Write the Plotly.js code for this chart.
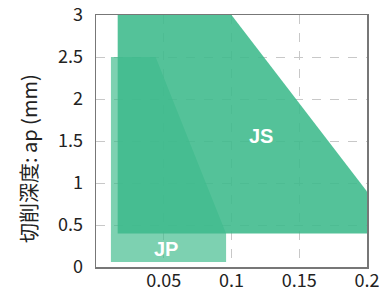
<!DOCTYPE html>
<html>
<head>
<meta charset="utf-8">
<script src="https://cdn.plot.ly/plotly-3.0.1.min.js"></script>
<style>html,body{margin:0;padding:0;background:#fff;}#chart{width:379px;height:287px;}</style>
</head>
<body>
<div id="chart"></div>
<script>
// JP region (feed f, depth ap)
const jpFeed = [0.011, 0.011, 0.044, 0.096, 0.096, 0.011];
const jpDepth = [0.06, 2.5, 2.5, 0.4, 0.06, 0.06];
// JS region
const jsFeed = [0.016, 0.016, 0.1, 0.2, 0.2, 0.016];
const jsDepth = [0.4, 3.0, 3.0, 0.9, 0.4, 0.4];
const labels = ["JS", "JP"];
const labelX = [0.122, 0.0517];
const labelY = [1.565, 0.215];
const xTicks = [0.05, 0.1, 0.15, 0.2];
const xTickText = ["0.05", "0.1", "0.15", "0.2"];
const yTicks = [0, 0.5, 1, 1.5, 2, 2.5, 3];
const yTickText = ["0", "0.5", "1", "1.5", "2", "2.5", "3"];
const yTitle = '切削深度: ap (mm)';

const traces = [
  {x: jpFeed, y: jpDepth, type: 'scatter', mode: 'lines', fill: 'toself',
   fillcolor: 'rgba(63,187,140,0.68)', line: {width: 0}, hoverinfo: 'skip', showlegend: false},
  {x: jsFeed, y: jsDepth, type: 'scatter', mode: 'lines', fill: 'toself',
   fillcolor: 'rgba(63,187,140,0.89)', line: {width: 0}, hoverinfo: 'skip', showlegend: false}
];

const annots = labels.map((t, i) => ({x: labelX[i], y: labelY[i], text: '<b>' + t + '</b>',
    showarrow: false, font: {family: '"Liberation Sans", Arial, sans-serif', size: 20, color: '#fff'}}));
annots.push({xref: 'paper', yref: 'paper', x: -0.247, y: 0.4286, xanchor: 'center', yanchor: 'middle',
  text: yTitle, textangle: -90, showarrow: false,
  font: {family: '"Noto Sans CJK JP", "Noto Sans", sans-serif', size: 20, color: '#222'}});

const layout = {
  width: 379, height: 287,
  margin: {l: 96, r: 12, t: 15, b: 20},
  paper_bgcolor: '#fff', plot_bgcolor: '#fff',
  font: {family: '"Noto Sans CJK JP", "Noto Sans", sans-serif', color: '#222', size: 18},
  xaxis: {range: [0, 0.2], tickvals: xTicks, ticktext: xTickText, showgrid: true,
    gridcolor: '#c8c8c8', griddash: 'dash', gridwidth: 1, zeroline: false,
    showline: true, linecolor: '#777', linewidth: 1.5, mirror: true, ticks: '',
    ticklabelstandoff: -3, ticklabeloverflow: 'allow', tickfont: {size: 18}},
  yaxis: {range: [0, 3], tickvals: yTicks, ticktext: yTickText, showgrid: true,
    gridcolor: '#c8c8c8', griddash: 'dash', gridwidth: 1, zeroline: false,
    showline: true, linecolor: '#777', linewidth: 1.5, mirror: true, ticks: '',
    ticklabelstandoff: 8, tickfont: {size: 18}},
  annotations: annots,
  showlegend: false
};

Plotly.newPlot('chart', traces, layout, {displayModeBar: false, staticPlot: true});
</script>
</body>
</html>
